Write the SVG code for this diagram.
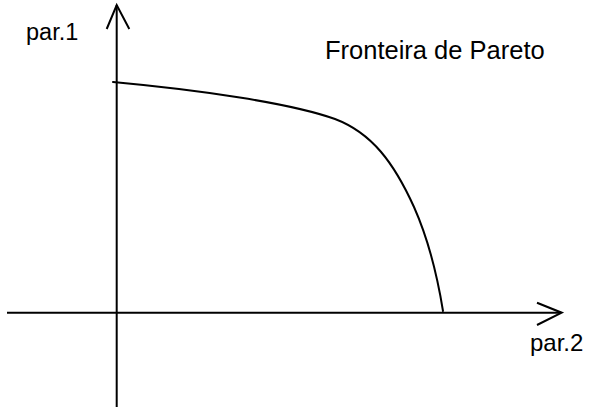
<svg xmlns="http://www.w3.org/2000/svg" width="591" height="407" viewBox="0 0 591 407">
<style>
.ax{stroke:#000;stroke-width:2;fill:none}
.cv{stroke:#000;stroke-width:2;fill:none;stroke-linecap:round}
.t{font-family:"Liberation Sans",Arial,sans-serif;fill:#000}
</style>
<rect width="591" height="407" fill="#fff"/>
<g id="connectors">
<line class="ax" x1="116.7" y1="5" x2="116.7" y2="407"/>
<polyline class="ax" points="106.7,29 116.7,5 129.3,29"/>
<line class="ax" x1="7" y1="312.7" x2="561" y2="312.7"/>
<polyline class="ax" points="537,302.7 561.7,312.7 537,325"/>
</g>
<g id="curve">
<path class="cv" d="M113,82 C200,90 290,103 335,119 C372,133 394,163 414,207 C430,243 438,280 443,311"/>
</g>
<g id="label-par1"><text class="t" x="26" y="39.5" font-size="23.5">par.1</text></g>
<g id="label-par2"><text class="t" x="530" y="351" font-size="24">par.2</text></g>
<g id="label-fronteira"><text class="t" x="325" y="59.3" font-size="25.5">Fronteira de Pareto</text></g>
</svg>
